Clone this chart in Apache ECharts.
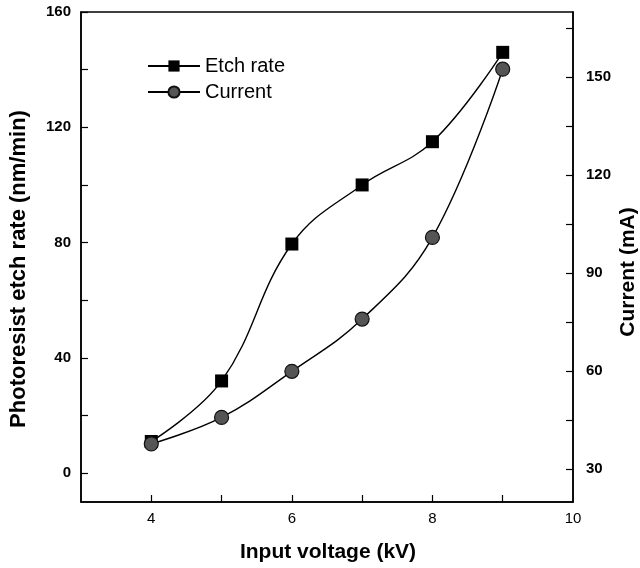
<!DOCTYPE html>
<html>
<head>
<meta charset="utf-8">
<script src="https://cdn.jsdelivr.net/npm/echarts@6/dist/echarts.min.js"></script>
<style>html,body{margin:0;padding:0;background:#fff}#c{width:640px;height:568px}</style>
</head>
<body>
<div id="c"></div>
<script>
const voltage = [4, 5, 6, 7, 8, 9];
const etchRate = [11, 32, 79.5, 100, 115, 146];
const current = [37.8, 45.9, 60, 76, 101, 152.5];
const xTickLabels = [4, 6, 8, 10];
const xTicks = [4, 5, 6, 7, 8, 9];
const leftTickLabels = [0, 40, 80, 120, 160];
const leftTicks = [0, 20, 40, 60, 80, 100, 120, 140, 160];
const rightTickLabels = [30, 60, 90, 120, 150];
const rightTicks = [30, 45, 60, 75, 90, 105, 120, 135, 150, 165];
const xTitle = 'Input voltage (kV)';
const leftTitle = 'Photoresist etch rate (nm/min)';
const rightTitle = 'Current (mA)';

const FONT = 'Liberation Sans, Arial, sans-serif';
const chart = echarts.init(document.getElementById('c'));
const axisLine = { show: true, onZero: false, lineStyle: { color: '#000', width: 1.5 } };
const tickStyle = { color: '#000', width: 1.2 };
const titleStyle = { fontFamily: FONT, fontSize: 21, fontWeight: 'bold', fill: '#000', align: 'center', verticalAlign: 'middle' };
chart.setOption({
  animation: false,
  backgroundColor: '#fff',
  grid: { left: 81, right: 67, top: 12, bottom: 66, show: true, borderColor: '#000', borderWidth: 1.5 },
  legend: {
    orient: 'vertical', left: 147, top: 56, padding: 0, itemWidth: 52, itemHeight: 14, itemGap: 6,
    textStyle: { fontFamily: FONT, fontSize: 20, color: '#000' },
    data: ['Etch rate', 'Current']
  },
  graphic: [
    { type: 'text', x: 328, y: 552, style: Object.assign({ text: xTitle }, titleStyle) },
    { type: 'text', x: 19, y: 269, rotation: Math.PI / 2, style: Object.assign({ text: leftTitle }, titleStyle, { fontSize: 22 }) },
    { type: 'text', x: 628, y: 272, rotation: Math.PI / 2, style: Object.assign({ text: rightTitle }, titleStyle) }
  ],
  xAxis: {
    type: 'value', min: 3, max: 10,
    axisLine: axisLine,
    axisTick: { show: true, inside: true, length: 7, customValues: xTicks, lineStyle: tickStyle },
    axisLabel: { customValues: xTickLabels, margin: 9, fontFamily: FONT, fontSize: 15, color: '#000' },
    splitLine: { show: false }
  },
  yAxis: [{
    type: 'value', min: -10, max: 160, position: 'left',
    axisLine: axisLine,
    axisTick: { show: true, inside: true, length: 7, customValues: leftTicks, lineStyle: tickStyle },
    axisLabel: { customValues: leftTickLabels, margin: 10, fontFamily: FONT, fontSize: 15, fontWeight: 'bold', color: '#000' },
    splitLine: { show: false }
  }, {
    type: 'value', min: 20, max: 170, position: 'right',
    axisLine: axisLine,
    axisTick: { show: true, inside: true, length: 7, customValues: rightTicks, lineStyle: tickStyle },
    axisLabel: { customValues: rightTickLabels, margin: 13, fontFamily: FONT, fontSize: 15, fontWeight: 'bold', color: '#000' },
    splitLine: { show: false }
  }],
  series: [{
    name: 'Etch rate', type: 'line', yAxisIndex: 0, smooth: 0.4,
    data: voltage.map((v, i) => [v, etchRate[i]]),
    symbol: 'rect', symbolSize: 13,
    lineStyle: { color: '#000', width: 1.4 },
    itemStyle: { color: '#000', borderColor: '#000', borderWidth: 0 }
  }, {
    name: 'Current', type: 'line', yAxisIndex: 1, smooth: 0.4,
    data: voltage.map((v, i) => [v, current[i]]),
    symbol: 'circle', symbolSize: 14,
    lineStyle: { color: '#000', width: 1.4 },
    itemStyle: { color: '#555', borderColor: '#111', borderWidth: 1.2 }
  }]
});
</script>
</body>
</html>
